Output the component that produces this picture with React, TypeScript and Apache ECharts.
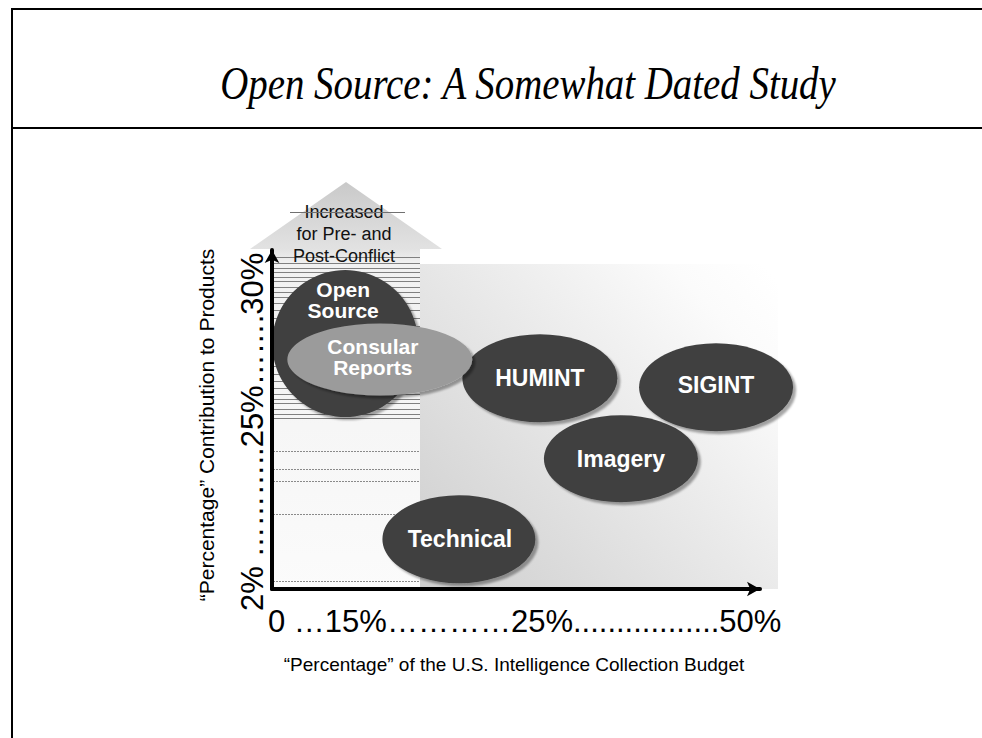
import { useEffect, useRef } from "react";
import * as echarts from "echarts";

// ---- text content ----
const TITLE = "Open Source: A Somewhat Dated Study";
const X_TICK_TEXT = "0 …15%…………25%.................50%";
const Y_TICK_TEXT = "2% ………..25%…….30%";
const X_NAME = "\u201cPercentage\u201d of the U.S. Intelligence Collection Budget";
const Y_NAME = "\u201cPercentage\u201d Contribution to Products";
const ARROW_TEXT = "Increased\nfor Pre- and\nPost-Conflict";

// ---- data (abstract 0-100 scales) ----
const disciplines = ["Open Source", "HUMINT", "SIGINT", "Imagery", "Technical", "Consular Reports"];
const labels = ["Open\nSource", "HUMINT", "SIGINT", "Imagery", "Technical", "Consular\nReports"];
const budgetShare = [15.0, 54.9, 91.0, 71.5, 38.3, 22.1];
const contribution = [72.4, 62.2, 59.5, 38.4, 14.7, 67.7];

// ---- styling ----
const SIZES = [[146, 147], [155, 88], [154, 88], [154, 87], [153, 88], [185, 72]];
const COLORS = ["#404040", "#404040", "#404040", "#404040", "#404040", "#9b9b9b"];
const LABEL_OFFSETS = [[-2, -44], [0, 0], [0, -2], [0, 0], [1, 0], [-7, -2]];
const LABEL_SIZES = [21, 23, 23, 23, 23, 21];
const STRIPES_SOLID = [257, 263, 268, 272, 277, 281, 287, 292, 297, 303, 310, 318, 326, 334, 342, 350, 358, 366, 374, 381, 388, 394, 399, 403, 409, 414, 418];
const STRIPES_DOTTED = [451, 469, 481, 514, 581];

export default function App() {
  const ref = useRef<HTMLDivElement>(null);
  useEffect(() => {
    if (!ref.current) return;
    const chart = echarts.init(ref.current, undefined, { renderer: "svg" });

    const stripeEls: any[] = [];
    STRIPES_SOLID.forEach((y) =>
      stripeEls.push({
        type: "line",
        z: -4,
        shape: { x1: 273, y1: y + 0.5, x2: 420, y2: y + 0.5 },
        style: { stroke: "#808080", lineWidth: 1 },
      })
    );
    STRIPES_DOTTED.forEach((y) =>
      stripeEls.push({
        type: "line",
        z: -4,
        shape: { x1: 273, y1: y + 0.5, x2: 420, y2: y + 0.5 },
        style: { stroke: "#8a8a8a", lineWidth: 1, lineDash: [2, 1] },
      })
    );
    stripeEls.push({
      type: "line",
      z: -2,
      shape: { x1: 290, y1: 212.5, x2: 405, y2: 212.5 },
      style: { stroke: "#707070", lineWidth: 1 },
    });

    const option: any = {
      animation: false,
      backgroundColor: "#ffffff",
      grid: { left: 272, right: 222, top: 250, bottom: 149 },
      xAxis: {
        type: "value",
        min: 0,
        max: 100,
        z: 3,
        axisLine: {
          show: true,
          symbol: ["none", "arrow"],
          symbolSize: [11, 13],
          lineStyle: { color: "#000", width: 4 },
        },
        axisTick: { show: false },
        axisLabel: { show: false },
        splitLine: { show: false },
      },
      yAxis: {
        type: "value",
        min: 0,
        max: 100,
        z: 3,
        axisLine: {
          show: true,
          symbol: ["none", "arrow"],
          symbolSize: [11, 13],
          lineStyle: { color: "#000", width: 4 },
        },
        axisTick: { show: false },
        axisLabel: { show: false },
        splitLine: { show: false },
      },
      graphic: [
        // background gradient panel
        {
          type: "rect",
          z: -6,
          shape: { x: 420, y: 264, width: 358, height: 325 },
          style: {
            fill: {
              type: "linear",
              x: 0, y: 0.9, x2: 1, y2: 0.05,
              colorStops: [
                { offset: 0, color: "#d0d0d0" },
                { offset: 0.5, color: "#e9e9e9" },
                { offset: 0.85, color: "#fbfbfb" },
                { offset: 1, color: "#ffffff" },
              ],
            },
          },
        },
        // big up-arrow
        {
          type: "polygon",
          z: -5,
          shape: {
            points: [
              [346, 182], [442, 249], [420, 249], [420, 589], [272, 589], [272, 249], [250, 249],
            ],
          },
          style: {
            fill: {
              type: "linear",
              x: 0, y: 0, x2: 0, y2: 1,
              colorStops: [
                { offset: 0, color: "#c9c9c9" },
                { offset: 0.165, color: "#e2e2e2" },
                { offset: 0.2, color: "#f1f1f1" },
                { offset: 1, color: "#fbfbfb" },
              ],
            },
          },
        },
        ...stripeEls,
        {
          type: "text",
          z: -3,
          x: 344,
          y: 234,
          style: {
            text: ARROW_TEXT,
            fontFamily: "Liberation Sans",
            fontSize: 18,
            lineHeight: 22,
            fill: "#111",
            textAlign: "center",
            textVerticalAlign: "middle",
          },
        },
        // slide frame
        {
          type: "polyline",
          z: 10,
          shape: { points: [[12, 738], [12, 9], [982, 9]] },
          style: { stroke: "#000", lineWidth: 2, fill: null },
        },
        {
          type: "line",
          z: 10,
          shape: { x1: 12, y1: 128, x2: 982, y2: 128 },
          style: { stroke: "#000", lineWidth: 2 },
        },
        // title
        {
          type: "text",
          z: 10,
          x: 528,
          y: 83,
          scaleX: 0.845,
          style: {
            text: TITLE,
            fontFamily: "Liberation Serif",
            fontStyle: "italic",
            fontSize: 46,
            fill: "#000",
            textAlign: "center",
            textVerticalAlign: "middle",
          },
        },
        // tick label strings
        {
          type: "text",
          z: 10,
          x: 268,
          y: 621,
          style: {
            text: X_TICK_TEXT,
            fontFamily: "Liberation Sans",
            fontSize: 31,
            fill: "#000",
            textAlign: "left",
            textVerticalAlign: "middle",
          },
        },
        {
          type: "text",
          z: 10,
          x: 252,
          y: 611,
          rotation: Math.PI / 2,
          style: {
            text: Y_TICK_TEXT,
            fontFamily: "Liberation Sans",
            fontSize: 31,
            fill: "#000",
            textAlign: "left",
            textVerticalAlign: "middle",
          },
        },
        // axis names
        {
          type: "text",
          z: 10,
          x: 514,
          y: 664,
          style: {
            text: X_NAME,
            fontFamily: "Liberation Sans",
            fontSize: 19,
            fill: "#000",
            textAlign: "center",
            textVerticalAlign: "middle",
          },
        },
        {
          type: "text",
          z: 10,
          x: 206,
          y: 425,
          rotation: Math.PI / 2,
          style: {
            text: Y_NAME,
            fontFamily: "Liberation Sans",
            fontSize: 21,
            fill: "#000",
            textAlign: "center",
            textVerticalAlign: "middle",
          },
        },
      ],
      series: [
        {
          type: "scatter",
          z: 2,
          symbol: "circle",
          itemStyle: { opacity: 1 },
          data: disciplines.map((name, i) => ({
            name,
            value: [budgetShare[i], contribution[i]],
            symbolSize: SIZES[i],
            itemStyle: {
              color: COLORS[i],
              opacity: 1,
              shadowColor: "rgba(0,0,0,0.35)",
              shadowBlur: 2,
              shadowOffsetX: 3,
              shadowOffsetY: 3,
            },
            label: {
              show: true,
              position: "inside",
              formatter: labels[i],
              offset: LABEL_OFFSETS[i],
              color: "#ffffff",
              opacity: 1,
              fontFamily: "Liberation Sans",
              fontWeight: "bold",
              fontSize: LABEL_SIZES[i],
              lineHeight: 21,
            },
          })),
        },
      ],
    };
    chart.setOption(option);
    return () => chart.dispose();
  }, []);
  return (
    <div
      ref={ref}
      style={{ position: "absolute", left: 0, top: 0, width: 982, height: 738 }}
    />
  );
}
